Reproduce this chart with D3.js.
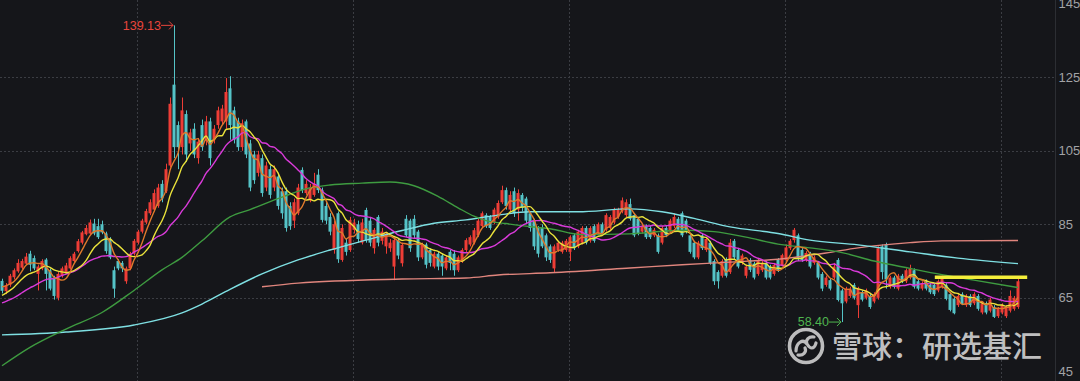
<!DOCTYPE html>
<html><head><meta charset="utf-8">
<script src="https://cdn.jsdelivr.net/npm/d3@7"></script>
<style>html,body{margin:0;padding:0;background:#15161a;overflow:hidden}</style>
</head><body><svg id="c" width="1080" height="381"></svg>
<script>
// ---- data: [open, close, high, low] per trading day ----
const candles = [
[69.6,66.9,70.2,66.2],[66.8,68.4,69.0,66.0],[68.5,71.0,71.5,68.0],[70.6,72.5,73.0,70.0],[72.2,74.5,75.5,71.8],
[73.2,75.0,75.6,72.8],[74.3,76.2,77.2,74.0],[77.0,74.0,77.8,72.2],[75.8,73.0,76.5,72.5],[71.5,73.5,74.0,67.0],
[73.0,75.0,75.5,72.5],[75.4,71.5,75.8,67.0],[72.5,67.5,73.0,67.0],[70.5,65.5,71.0,64.5],[65.0,71.5,72.0,64.3],
[71.0,73.0,73.5,70.5],[72.0,73.8,74.5,71.5],[73.0,75.8,76.3,72.7],[75.0,77.0,77.5,74.6],[77.7,80.4,81.0,77.3],
[80.0,82.8,83.2,79.5],[82.3,84.0,84.8,82.0],[82.5,85.5,86.3,82.2],[85.2,82.5,86.5,82.0],[84.5,81.5,86.5,81.0],
[85.0,82.8,86.0,82.3],[82.5,77.7,83.0,77.0],[81.0,76.0,81.5,75.5],[72.5,67.5,73.5,65.0],[75.0,73.0,75.5,72.5],
[74.5,73.0,75.0,72.0],[69.5,73.0,73.5,68.8],[73.0,77.0,77.5,72.5],[77.0,80.5,81.0,76.5],[80.0,83.0,83.5,79.5],
[83.0,86.0,86.5,82.5],[85.5,88.6,89.2,85.0],[88.0,91.0,91.8,87.5],[89.0,93.5,94.5,88.5],[90.0,95.0,96.0,89.5],
[96.0,92.0,97.0,91.0],[94.0,100.0,101.5,93.5],[101.0,117.8,119.5,100.5],[123.0,106.0,139.13,103.0],[112.0,106.0,113.0,100.0],
[106.0,116.0,119.5,104.0],[115.0,104.0,116.0,102.0],[107.0,110.0,111.0,105.0],[111.0,104.0,112.5,103.0],[103.0,107.5,108.5,101.5],
[112.0,106.0,113.5,105.0],[107.7,113.0,114.5,106.5],[113.0,103.0,114.0,101.0],[108.0,111.0,112.0,107.0],[112.0,116.0,117.0,111.0],
[113.0,116.5,117.5,112.0],[113.0,121.0,124.8,111.0],[122.0,112.0,125.3,108.0],[116.0,108.0,117.0,107.0],[113.0,106.0,114.0,105.0],
[106.0,112.5,113.5,105.0],[113.0,104.0,113.5,103.0],[107.0,95.0,108.0,94.0],[104.0,97.0,105.0,96.0],[99.0,104.0,105.0,98.0],
[103.0,93.5,104.0,92.5],[95.0,101.0,102.0,94.0],[100.0,93.0,101.0,92.0],[95.0,100.0,101.0,94.0],[98.0,90.0,99.0,89.0],
[94.0,88.0,95.0,86.5],[94.0,84.0,95.0,83.0],[90.0,84.5,91.0,83.5],[86.0,91.0,92.0,84.0],[88.0,95.0,96.0,87.5],
[99.8,94.3,100.5,93.5],[93.5,96.0,97.0,93.0],[91.5,95.0,96.0,91.0],[93.0,96.0,99.0,92.5],[98.5,94.3,100.0,93.5],
[94.3,86.2,95.0,85.5],[90.0,86.0,91.0,85.0],[87.0,83.0,88.0,82.0],[78.0,85.0,86.0,77.0],[88.0,75.5,88.5,74.5],
[75.3,84.0,85.0,74.8],[80.0,77.5,81.0,76.5],[78.0,86.2,87.0,77.5],[83.5,85.5,86.5,82.5],[85.0,81.0,86.0,80.0],
[80.0,85.5,86.5,79.5],[88.9,80.7,89.5,80.0],[86.0,80.0,87.0,79.0],[78.5,83.5,84.0,77.0],[87.0,80.0,87.5,79.0],
[80.5,83.0,84.0,79.5],[79.0,82.5,83.0,77.0],[78.5,80.0,81.0,77.5],[73.5,80.7,81.5,69.8],[80.7,76.5,81.0,75.5],
[74.4,79.4,80.0,73.5],[86.5,82.0,87.5,81.5],[86.0,78.5,86.5,77.5],[86.5,82.0,87.5,81.0],[83.0,76.0,83.5,75.0],
[76.0,79.5,80.0,75.5],[79.5,74.0,80.0,73.0],[78.0,74.5,78.5,73.5],[73.5,77.0,77.5,73.0],[77.0,73.5,77.5,72.5],
[76.5,73.5,77.0,71.0],[73.0,76.0,76.5,72.5],[77.5,74.5,78.0,72.5],[77.0,72.5,78.0,71.0],[72.5,76.0,76.5,72.0],
[75.0,78.0,78.5,74.5],[78.0,80.7,81.2,77.5],[79.5,81.5,82.0,79.0],[80.0,83.4,84.0,79.5],[82.0,86.0,86.5,81.5],
[84.5,88.0,88.5,84.0],[87.5,84.5,88.0,84.0],[87.0,84.0,87.5,83.5],[85.5,89.0,89.5,85.0],[87.0,90.8,91.5,86.5],
[91.0,94.3,95.5,90.5],[94.3,90.0,95.0,89.0],[89.0,93.0,94.0,88.5],[94.0,88.0,95.0,87.0],[89.0,93.5,94.5,86.0],
[93.0,89.5,93.5,88.5],[92.0,86.0,92.5,85.0],[88.0,84.0,88.5,83.0],[86.0,79.0,86.5,78.0],[84.0,77.0,84.5,76.0],
[84.0,79.0,85.0,78.5],[82.0,76.0,82.5,75.0],[79.0,75.3,79.5,74.5],[73.0,79.0,79.5,72.0],[78.0,80.0,80.5,77.5],
[77.5,80.0,80.5,77.0],[78.0,80.5,81.0,77.5],[77.5,81.5,82.0,75.0],[82.0,78.5,82.5,78.0],[79.0,83.0,83.5,78.5],
[80.0,84.0,84.5,79.5],[84.0,80.0,84.5,79.5],[80.5,84.0,84.5,80.0],[84.5,80.5,85.0,80.0],[82.5,85.0,85.5,82.0],
[85.0,82.5,85.5,82.0],[83.5,87.5,88.0,83.0],[84.0,87.0,87.5,83.5],[85.5,89.0,89.5,85.0],[87.0,89.0,89.5,86.5],
[88.5,91.5,92.3,88.0],[87.5,91.0,91.8,87.0],[90.5,86.5,92.0,86.0],[87.5,82.0,88.0,81.5],[86.5,82.5,87.0,82.0],
[83.0,84.5,85.0,82.5],[84.5,81.5,85.0,81.0],[84.0,81.5,84.5,81.0],[82.0,83.5,84.0,81.5],[82.0,77.5,82.5,77.0],
[80.0,84.0,84.5,79.5],[84.0,82.0,84.5,81.5],[83.0,86.0,86.5,82.5],[84.5,87.0,88.0,84.0],[86.5,83.5,87.0,83.0],
[88.0,82.0,88.5,81.5],[86.0,83.0,86.5,82.5],[82.0,77.5,82.5,77.0],[80.0,76.0,80.5,75.5],[76.0,80.0,80.5,75.5],
[82.0,78.5,82.5,78.0],[78.0,81.0,81.5,77.5],[80.0,74.5,80.5,74.0],[75.0,69.5,75.5,68.5],[72.0,69.5,72.5,67.5],
[71.0,75.0,75.5,70.5],[75.5,71.0,76.0,70.5],[72.0,80.0,81.0,71.5],[80.5,76.0,81.0,75.5],[78.0,73.5,78.5,73.0],
[74.5,76.5,77.0,74.0],[71.0,73.5,74.0,70.3],[75.3,72.6,75.8,72.0],[74.3,70.5,74.8,70.0],[71.5,75.3,75.8,71.0],
[72.5,74.5,75.0,72.0],[74.5,70.5,75.0,70.0],[73.5,70.5,74.0,70.0],[71.5,73.9,74.5,71.0],[75.3,72.6,75.8,72.0],
[73.9,76.6,77.0,73.5],[75.3,78.7,79.5,75.0],[78.5,80.5,81.0,78.0],[80.7,83.5,84.0,80.0],[82.0,75.5,82.5,75.0],
[78.0,75.3,78.5,74.8],[75.3,77.2,77.7,74.8],[77.0,73.5,77.5,73.0],[74.5,76.0,76.5,74.0],[74.5,70.5,75.0,70.0],
[71.5,67.5,72.0,66.8],[68.5,70.5,71.0,68.0],[69.8,67.5,70.3,67.0],[70.5,73.5,74.5,70.0],[75.3,64.4,75.8,64.0],
[67.0,63.5,67.5,58.4],[64.0,67.5,68.0,63.5],[65.5,67.5,68.0,65.0],[68.5,65.0,69.0,64.5],[63.0,67.5,68.0,59.5],
[66.5,64.5,67.0,64.0],[65.0,67.0,67.5,64.5],[65.5,62.5,66.0,62.0],[64.0,66.0,66.5,63.5],[65.0,78.5,79.0,64.5],
[79.0,72.0,79.5,70.0],[79.5,70.0,80.0,67.5],[68.0,70.5,71.0,67.5],[70.5,68.0,71.0,67.5],[67.5,71.0,71.5,67.0],
[71.0,69.5,71.5,69.0],[69.5,72.5,73.0,69.0],[70.5,73.0,74.0,70.0],[72.5,68.0,73.0,67.5],[69.5,67.5,70.0,67.0],
[67.5,69.0,69.5,67.0],[69.5,67.5,70.0,67.0],[68.5,66.5,69.0,66.0],[68.5,66.0,69.0,65.5],[67.0,69.5,70.0,66.5],
[68.0,70.5,71.0,67.5],[68.5,64.7,69.0,64.3],[66.0,61.7,66.5,61.3],[64.7,60.8,65.2,60.5],[63.0,65.5,66.0,62.5],
[66.0,63.3,66.5,63.0],[63.0,65.5,66.0,62.5],[65.5,63.0,66.0,62.5],[63.5,66.0,66.5,63.0],[65.5,62.0,66.0,61.5],
[61.0,63.5,64.0,60.5],[63.5,61.0,64.0,60.5],[61.5,64.5,65.0,61.0],[62.5,59.8,63.0,59.5],[60.0,62.0,62.5,59.5],
[61.0,63.0,63.5,60.5],[60.0,62.5,63.0,59.5],[61.5,65.5,67.0,61.0],[62.0,65.0,65.5,61.5],[62.5,69.5,70.3,62.0]
];
// closes of the 19 sessions before the window (seed for MA5/10/20)
const priorCloses = [60.5,61.0,62.5,61.5,60.8,62.0,61.2,62.5,61.5,62.0,62.5,63.5,64.0,63.0,64.0,67.0,68.5,69.0,68.5];

// long moving averages: [day index, value]
const ma60Pts = [[0,46.5],[7,51.5],[16,56.5],[25,61.0],[33,67.0],[40,72.6],[45,76.0],[50,80.5],[57,87.0],[62,89.0],[70,92.4],[77,94.9],[82,95.7],[90,96.2],[97,96.5],[103,95.5],[109,92.6],[114,89.5],[118,87.2],[121,86.0],[126,85.2],[131,84.5],[137,83.8],[145,82.2],[157,82.4],[170,83.4],[178,83.0],[186,81.5],[194,79.6],[202,78.6],[210,77.3],[218,75.0],[227,73.0],[235,71.3],[243,69.8],[254,67.8]];
const ma120Pts = [[0,54.9],[16,55.7],[33,57.6],[45,60.9],[50,63.3],[57,67.3],[65,71.5],[74,75.3],[82,78.0],[91,80.7],[100,83.3],[108,85.3],[116,86.2],[124,87.5],[132,88.4],[144,88.4],[157,89.2],[165,88.4],[173,86.6],[182,84.3],[194,82.5],[202,80.7],[214,79.4],[227,77.5],[239,75.8],[254,74.3]];
const ma250Pts = [[65,68.0],[74,69.0],[100,70.1],[116,70.4],[124,71.2],[137,71.8],[157,73.1],[170,74.0],[182,74.7],[194,75.5],[206,77.2],[214,78.6],[227,80.0],[235,80.5],[254,80.6]];

const yTicks = [145,125,105,85,65,45];
const gridValues = [125,105,85,65];
const vGridIdx = [34,88,142,196,250];
const levelLine = {value:70.6, from:233.2, to:256.3};
const watermark = "雪球：研选基汇";

// ---- drawing ----
const W = 1080, H = 381, axisX = 1055;
const svg = d3.select("#c");
svg.append("rect").attr("width",W).attr("height",H).attr("fill","#15161a");

const y = d3.scaleLinear().domain([45,145]).range([371.3,3.8]);
const x = d3.scaleBand().domain(d3.range(candles.length)).range([0,1020]).paddingInner(0.25).paddingOuter(0.125);
const xc = i => x(i) + x.bandwidth()/2;
const xl = d3.scaleLinear().domain([0,candles.length-1]).range([xc(0), xc(candles.length-1)]);

svg.append("defs").append("clipPath").attr("id","plot").append("rect").attr("x",0).attr("y",0).attr("width",axisX).attr("height",H);

// grid
const grid = svg.append("g").attr("stroke","#3b3d43").attr("stroke-width",1).attr("stroke-dasharray","2,2");
grid.selectAll("line.h").data(gridValues).join("line").attr("class","h")
  .attr("x1",0).attr("x2",axisX).attr("y1",d=>Math.round(y(d))+0.5).attr("y2",d=>Math.round(y(d))+0.5);
grid.selectAll("line.v").data(vGridIdx).join("line").attr("class","v")
  .attr("x1",d=>Math.round(xc(d))-0.5).attr("x2",d=>Math.round(xc(d))-0.5).attr("y1",0).attr("y2",H);

// axis
const ax = svg.append("g").attr("transform",`translate(${axisX},0)`)
  .call(d3.axisRight(y).tickValues(yTicks).tickSize(0).tickPadding(3.5));
ax.select(".domain").attr("stroke","#2c2e33").attr("d",`M0.5,0V${H}`);
ax.selectAll("text").attr("fill","#a2a3a6").attr("font-family","Liberation Sans, Arial, sans-serif").attr("font-size",13);

const plot = svg.append("g").attr("clip-path","url(#plot)");

// candles
const UP = "#ee3d36", DOWN = "#55c3c7";
const cg = plot.append("g");
candles.forEach((c,i)=>{
  const [o,cl,h,l] = c;
  const col = cl >= o ? UP : DOWN;
  const cx = Math.round(xc(i)) + 0.5;
  cg.append("line").attr("x1",cx).attr("x2",cx).attr("y1",y(h)).attr("y2",y(l)).attr("stroke",col).attr("stroke-width",1);
  const top = y(Math.max(o,cl)), bot = y(Math.min(o,cl));
  cg.append("rect").attr("x",x(i)).attr("width",x.bandwidth()).attr("y",top).attr("height",Math.max(1,bot-top)).attr("fill",col);
});

// short moving averages from closes
const closes = priorCloses.concat(candles.map(c=>c[1]));
function ma(n){
  const off = priorCloses.length;
  return candles.map((c,i)=>{
    const k = i + off;
    const s = closes.slice(k-n+1, k+1);
    return [i, d3.mean(s)];
  });
}
const mkLine = d3.line().x(d=>xl(d[0])).y(d=>y(d[1])).curve(d3.curveMonotoneX);
const series = [
  {pts:ma250Pts, color:"#e0857d"},
  {pts:ma120Pts, color:"#7fe0e3"},
  {pts:ma60Pts, color:"#3e9b40"},
  {pts:ma(20), color:"#d93ad9"},
  {pts:ma(10), color:"#ebe33b"},
  {pts:ma(5), color:"#df7a2c"}
];
series.forEach(s=>{
  plot.append("path").attr("d",mkLine(s.pts)).attr("fill","none").attr("stroke",s.color).attr("stroke-width",1.4);
});

// drawn level line
svg.append("line").attr("x1",xl(levelLine.from)).attr("x2",xl(levelLine.to))
  .attr("y1",y(levelLine.value)).attr("y2",y(levelLine.value)).attr("stroke","#f4ee3a").attr("stroke-width",3.4);

// max / min annotations
const hiIdx = d3.maxIndex(candles, c=>c[2]);
const loIdx = d3.minIndex(candles, c=>c[3]);
function annot(idx, val, color){
  const px = xc(idx) - 1, py = y(val);
  const g = svg.append("g");
  g.append("line").attr("x1",px-12).attr("x2",px).attr("y1",py).attr("y2",py).attr("stroke",color).attr("stroke-width",1);
  g.append("path").attr("d",`M${px-4},${py-4}L${px},${py}L${px-4},${py+4}`).attr("fill","none").attr("stroke",color).attr("stroke-width",1);
  g.append("text").attr("x",px-12).attr("y",py).attr("dy","0.35em").attr("text-anchor","end")
    .attr("fill",color).attr("font-family","Liberation Sans, Arial, sans-serif").attr("font-size",12.5)
    .text(val.toFixed(2));
}
annot(hiIdx, candles[hiIdx][2], "#e8453c");
annot(loIdx, candles[loIdx][3], "#4fb54f");

// watermark
const wm = svg.append("g").attr("opacity",0.9);
const lg = wm.append("g").attr("transform","translate(806,346)");
lg.append("circle").attr("r",16.5).attr("fill","none").attr("stroke","#cfcfcf").attr("stroke-width",3.6);
lg.append("path").attr("d","M-10,5 C-10,-3 -3,-8 1,-2 C4,3 8,4 10,-3 M-8,9 C-3,10 1,6 -1,2 M8,-9 C3,-10 -1,-6 1,-2")
  .attr("fill","none").attr("stroke","#cfcfcf").attr("stroke-width",3.2).attr("stroke-linecap","round");
wm.append("text").attr("x",832).attr("y",357).attr("fill","#d2d2d2").attr("font-weight",500)
  .attr("font-family","Noto Sans CJK SC, sans-serif").attr("font-size",30).text(watermark);
</script></body></html>
